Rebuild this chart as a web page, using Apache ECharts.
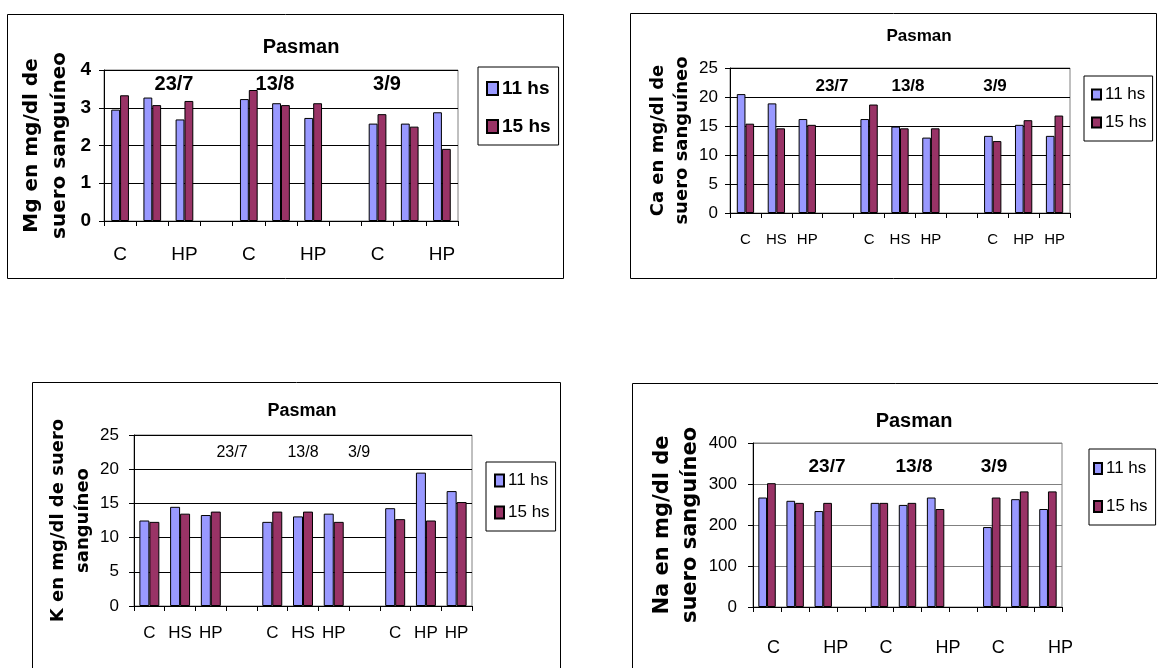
<!DOCTYPE html>
<html>
<head>
<meta charset="utf-8">
<script src="https://cdn.jsdelivr.net/npm/echarts@6/dist/echarts.min.js"></script>
<style>
  html, body { margin: 0; padding: 0; background: #fff; }
  #chart { width: 1158px; height: 668px; }
</style>
</head>
<body>
<div id="chart"></div>
<script>
// Category labels under each bar pair (gaps separate the three sampling dates)
const categories = ['C', 'HS', 'HP', '', 'C', 'HS', 'HP', '', 'C', 'HP', 'HP'];
const dates = ['23/7', '13/8', '3/9'];
const seriesNames = ['11 hs', '15 hs'];

// Magnesium (mg/dl)
const mg11 = [2.95, 3.27, 2.69, null, 3.23, 3.12, 2.73, null, 2.58, 2.58, 2.88];
const mg15 = [3.33, 3.07, 3.18, null, 3.47, 3.07, 3.12, null, 2.83, 2.50, 1.91];
// Calcium (mg/dl)
const ca11 = [20.5, 18.9, 16.2, null, 16.2, 14.9, 13.0, null, 13.3, 15.2, 13.3];
const ca15 = [15.4, 14.6, 15.2, null, 18.7, 14.6, 14.6, null, 12.4, 16.0, 16.8];
// Potassium (mg/dl)
const k11 = [12.5, 14.5, 13.3, null, 12.3, 13.1, 13.5, null, 14.3, 19.5, 16.8];
const k15 = [12.3, 13.5, 13.8, null, 13.8, 13.8, 12.3, null, 12.7, 12.5, 15.2];
// Sodium (mg/dl)
const na11 = [267, 259, 234, null, 254, 249, 267, null, 195, 263, 239];
const na15 = [302, 254, 254, null, 254, 254, 239, null, 267, 282, 282];

const BLUE = '#9999FF';
const PLUM = '#993366';
const SANS = 'Liberation Sans, Arial, sans-serif';
const WIDE = 'DejaVu Sans, sans-serif';
const NARROW = 'Liberation Sans Narrow, Liberation Sans, sans-serif';

// Layout and styling of the four panels
const panels = [
  { data: [mg11, mg15], yName: 'Mg en mg/dl de\nsuero sanguíneo',
    grid: { left: 104, top: 70, width: 354, height: 151 },
    y: { max: 4, interval: 1, size: 19, bold: true, margin: 13 },
    nameSize: 20, nameLH: 28, nameGap: 30,
    x: { interval: 1, size: 19, margin: 24, font: SANS },
    gap: '45%', grid_line: '#000',
    box: [7, 14, 556, 264],
    title: { x: 301, y: 48, size: 20 },
    legend: { left: 478, top: 67, size: 19, bold: true, iw: 11, ih: 13, gap: 19, pad: [12, 8, 9, 8] },
    dates: { xs: [174, 275, 387], y: 84, size: 20, bold: true, font: SANS } },
  { data: [ca11, ca15], yName: 'Ca en mg/dl de\nsuero sanguíneo',
    grid: { left: 730, top: 68, width: 340, height: 145 },
    y: { max: 25, interval: 5, size: 17, bold: false, margin: 12 },
    nameSize: 18, nameLH: 24, nameGap: 36,
    x: { interval: 0, size: 15, margin: 19, font: SANS },
    gap: '44%', grid_line: '#000',
    box: [630, 13, 526, 265],
    title: { x: 919, y: 37, size: 17 },
    legend: { left: 1084, top: 76, size: 17, bold: false, iw: 9, ih: 10, gap: 11, pad: [10, 6, 10, 7] },
    dates: { xs: [832, 908, 995], y: 86, size: 17, bold: true, font: SANS } },
  { data: [k11, k15], yName: 'K en mg/dl de suero\nsanguíneo',
    grid: { left: 134, top: 435, width: 338, height: 171 },
    y: { max: 25, interval: 5, size: 17, bold: false, margin: 15 },
    nameSize: 18, nameLH: 25, nameGap: 38,
    x: { interval: 0, size: 17, margin: 19, font: NARROW },
    gap: '35%', grid_line: '#000',
    box: [32, 382, 528, 300],
    title: { x: 302, y: 412, size: 18 },
    legend: { left: 486, top: 462, size: 17, bold: false, iw: 9, ih: 12, gap: 15, pad: [10, 6, 10, 8] },
    dates: { xs: [232, 303, 359], y: 453, size: 16, bold: false, font: NARROW } },
  { data: [na11, na15], yName: 'Na en mg/dl de\nsuero sanguíneo',
    grid: { left: 753, top: 443, width: 309, height: 164 },
    y: { max: 400, interval: 100, size: 17, bold: false, margin: 16 },
    nameSize: 21, nameLH: 28, nameGap: 48,
    x: { interval: 1, size: 18, margin: 32, font: SANS, align: 'left' },
    gap: '38%', grid_line: '#808080',
    box: [632, 383, 540, 300],
    title: { x: 914, y: 422, size: 20 },
    legend: { left: 1089, top: 449, size: 17, bold: false, iw: 8, ih: 11, gap: 21, pad: [11, 8, 10, 4] },
    dates: { xs: [827, 914, 994], y: 467, size: 19, bold: true, font: SANS } }
];

const option = {
  backgroundColor: '#fff',
  animation: false,
  title: [], grid: [], xAxis: [], yAxis: [], series: [], legend: [], graphic: []
};

panels.forEach((p, i) => {
  option.graphic.push({
    type: 'rect', z: -10, silent: true,
    shape: { x: p.box[0] + 0.5, y: p.box[1] + 0.5, width: p.box[2], height: p.box[3] },
    style: { fill: '#fff', stroke: '#000', lineWidth: 1 }
  });
  option.title.push({
    text: 'Pasman', left: p.title.x, top: p.title.y - p.title.size / 2 - 1, textAlign: 'center',
    padding: 0,
    textStyle: { fontFamily: SANS, fontWeight: 'bold', fontSize: p.title.size, color: '#000' }
  });
  option.grid.push(Object.assign({
    show: true, borderColor: '#808080', borderWidth: 1, backgroundColor: '#fff', containLabel: false
  }, p.grid));
  option.xAxis.push({
    type: 'category', gridIndex: i, data: categories, boundaryGap: true,
    axisLine: { show: true, lineStyle: { color: '#000', width: 1 } },
    axisTick: { show: true, interval: 0, length: 5, lineStyle: { color: '#000' } },
    axisLabel: {
      interval: p.x.interval, fontSize: p.x.size, margin: p.x.margin, color: '#000',
      fontFamily: p.x.font, align: p.x.align || 'center'
    },
    splitLine: { show: false }
  });
  option.yAxis.push({
    type: 'value', gridIndex: i, min: 0, max: p.y.max, interval: p.y.interval,
    name: p.yName, nameLocation: 'middle', nameRotate: 90, nameGap: p.nameGap,
    nameTextStyle: {
      fontFamily: WIDE, fontWeight: 'bold', fontSize: p.nameSize, lineHeight: p.nameLH,
      color: '#000', align: 'center'
    },
    axisLine: { show: true, lineStyle: { color: '#000', width: 1 } },
    axisTick: { show: true, length: 5, lineStyle: { color: '#000' } },
    axisLabel: {
      fontSize: p.y.size, fontWeight: p.y.bold ? 'bold' : 'normal', margin: p.y.margin,
      color: '#000', fontFamily: SANS
    },
    splitLine: { show: true, lineStyle: { color: p.grid_line, width: 1 } }
  });
  [BLUE, PLUM].forEach((col, k) => {
    option.series.push({
      type: 'bar', name: seriesNames[k], xAxisIndex: i, yAxisIndex: i,
      data: p.data[k], barGap: '0%', barCategoryGap: p.gap,
      itemStyle: { color: col, borderColor: '#000', borderWidth: 1 }
    });
  });
  option.legend.push({
    orient: 'vertical', left: p.legend.left, top: p.legend.top,
    data: seriesNames, icon: 'rect',
    itemWidth: p.legend.iw, itemHeight: p.legend.ih, itemGap: p.legend.gap,
    padding: p.legend.pad, borderColor: '#000', borderWidth: 1, backgroundColor: '#fff',
    selectedMode: false,
    textStyle: {
      fontFamily: SANS, fontSize: p.legend.size, color: '#000',
      fontWeight: p.legend.bold ? 'bold' : 'normal', padding: [0, 0, 0, -1]
    }
  });
  dates.forEach((d, j) => {
    option.graphic.push({
      type: 'text', z: 50, silent: true,
      x: p.dates.xs[j], y: p.dates.y,
      style: {
        text: d, fill: '#000', align: 'center', verticalAlign: 'middle',
        font: (p.dates.bold ? 'bold ' : '') + p.dates.size + 'px ' + p.dates.font
      }
    });
  });
});

const chart = echarts.init(document.getElementById('chart'));
chart.setOption(option);
</script>
</body>
</html>
